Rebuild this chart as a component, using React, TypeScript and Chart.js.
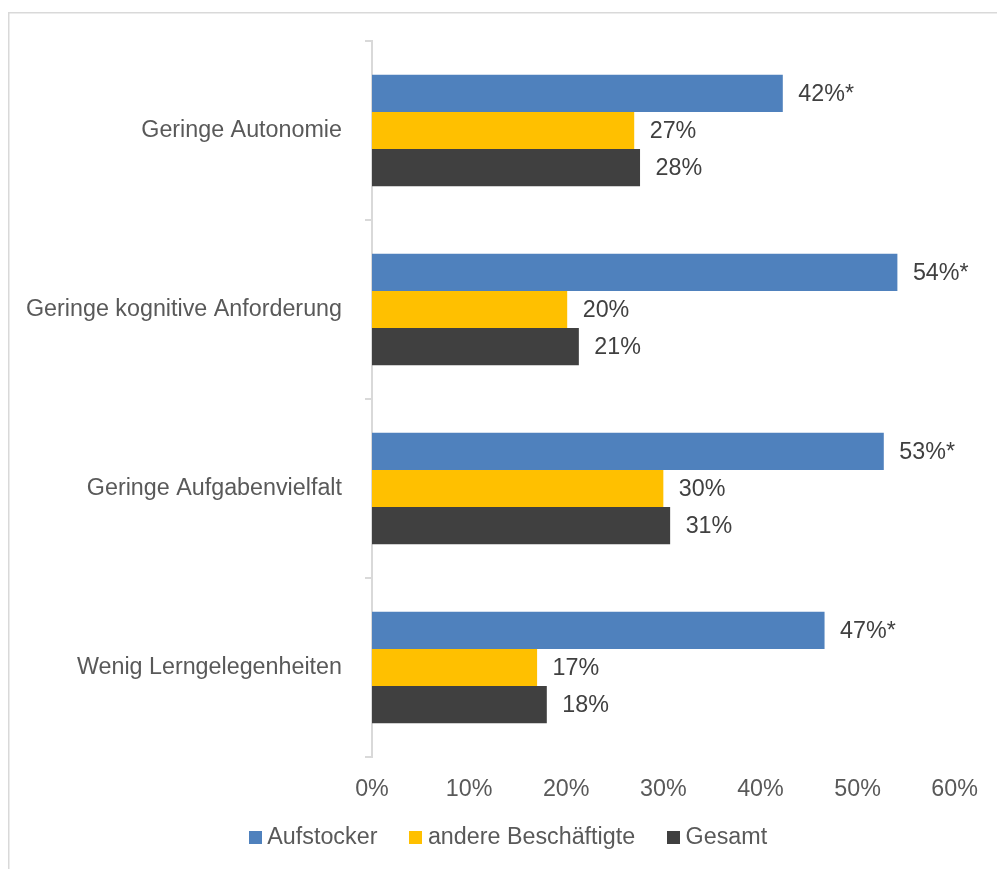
import React, { useEffect, useRef } from "react";
import { Chart, registerables } from "chart.js";

Chart.register(...registerables);

const categories = [
  "Geringe Autonomie",
  "Geringe kognitive Anforderung",
  "Geringe Aufgabenvielfalt",
  "Wenig Lerngelegenheiten",
];
const seriesNames = ["Aufstocker", "andere Beschäftigte", "Gesamt"];
const aufstocker = [42.3, 54.1, 52.7, 46.6];
const andere = [27.0, 20.1, 30.0, 17.0];
const gesamt = [27.6, 21.3, 30.7, 18.0];
const labelSuffix = ["*", "", ""];
const xMin = 0;
const xMax = 60;
const xStep = 10;
const colors = ["#4f81bd", "#ffc000", "#404040"];

const FONT = '"Liberation Sans", Arial, Helvetica, sans-serif';
const FS = 23.3;

const framePlugin = {
  id: "frame",
  beforeDraw(chart: any) {
    const ctx = chart.ctx;
    ctx.save();
    ctx.fillStyle = "#ffffff";
    ctx.fillRect(0, 0, chart.width, chart.height);
    ctx.strokeStyle = "#d9d9d9";
    ctx.lineWidth = 1.5;
    ctx.beginPath();
    ctx.moveTo(8.75, chart.height);
    ctx.lineTo(8.75, 12.75);
    ctx.lineTo(chart.width, 12.75);
    ctx.stroke();
    ctx.restore();
  },
};

const valueLabelPlugin = {
  id: "valueLabels",
  afterDatasetsDraw(chart: any) {
    const ctx = chart.ctx;
    ctx.save();
    ctx.font = `${FS}px ${FONT}`;
    ctx.fillStyle = "#404040";
    ctx.textAlign = "left";
    ctx.textBaseline = "middle";
    chart.data.datasets.forEach((ds: any, i: number) => {
      const meta = chart.getDatasetMeta(i);
      meta.data.forEach((el: any, j: number) => {
        const v = ds.data[j];
        const txt = Math.round(v) + "%" + labelSuffix[i];
        ctx.fillText(txt, el.x + 15.5, el.y + 1);
      });
    });
    ctx.restore();
  },
};

const legendPlugin = {
  id: "customLegend",
  afterDraw(chart: any) {
    const ctx = chart.ctx;
    ctx.save();
    ctx.font = `${FS}px ${FONT}`;
    const box = 13;
    const gapText = 5.5;
    const gapItem = 32;
    const items = chart.data.datasets.map((ds: any) => ({
      label: ds.label,
      color: ds.backgroundColor,
      w: ctx.measureText(ds.label).width,
    }));
    let total = 0;
    items.forEach((it: any, i: number) => {
      total += box + gapText + it.w + (i < items.length - 1 ? gapItem : 0);
    });
    const cx = 508;
    const cy = 837.5;
    let x = cx - total / 2;
    ctx.textAlign = "left";
    ctx.textBaseline = "middle";
    items.forEach((it: any) => {
      ctx.fillStyle = it.color;
      ctx.fillRect(Math.round(x), Math.round(cy - box / 2), box, box);
      ctx.fillStyle = "#595959";
      ctx.fillText(it.label, x + box + gapText, cy);
      x += box + gapText + it.w + gapItem;
    });
    ctx.restore();
  },
};

export default function App() {
  const ref = useRef<HTMLCanvasElement | null>(null);
  useEffect(() => {
    if (!ref.current) return;
    const series = [aufstocker, andere, gesamt];
    const chart = new Chart(ref.current, {
      type: "bar",
      data: {
        labels: categories,
        datasets: series.map((d, i) => ({
          label: seriesNames[i],
          data: d,
          backgroundColor: colors[i],
          borderWidth: 0,
          categoryPercentage: 0.623,
          barPercentage: 1,
        })),
      },
      options: {
        indexAxis: "y",
        responsive: false,
        animation: false,
        layout: { padding: { left: 0, top: 41, right: 42, bottom: 67 } },
        plugins: {
          legend: { display: false },
          tooltip: { enabled: false },
        },
        scales: {
          x: {
            min: xMin,
            max: xMax,
            grid: { display: false, drawTicks: false },
            border: { display: false },
            ticks: {
              stepSize: xStep,
              padding: 19,
              color: "#595959",
              font: { family: FONT, size: FS },
              callback: (v: any) => v + "%",
            },
            afterFit: (s: any) => {
              s.height = 45;
            },
          },
          y: {
            grid: {
              offset: true,
              drawOnChartArea: false,
              tickLength: 7,
              color: "#d9d9d9",
              lineWidth: 2,
            },
            border: { color: "#d9d9d9", width: 2 },
            ticks: {
              padding: 23,
              color: "#595959",
              font: { family: FONT, size: FS },
            },
            afterFit: (s: any) => {
              s.width = 372;
            },
          },
        },
      },
      plugins: [framePlugin, valueLabelPlugin, legendPlugin],
    } as any);
    return () => chart.destroy();
  }, []);
  return (
    <div style={{ position: "absolute", left: 0, top: 0, width: 997, height: 869 }}>
      <canvas ref={ref} width={997} height={869} style={{ display: "block" }} />
    </div>
  );
}
